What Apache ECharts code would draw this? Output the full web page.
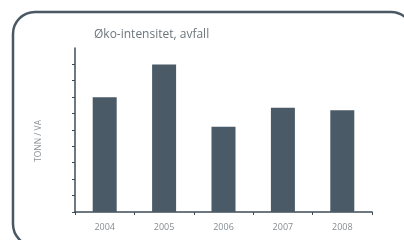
<!DOCTYPE html>
<html>
<head>
<meta charset="utf-8">
<script src="https://cdn.jsdelivr.net/npm/echarts@6/dist/echarts.min.js"></script>
<style>
html, body { margin: 0; padding: 0; background: #fff; }
#chart { width: 404px; height: 240px; }
</style>
</head>
<body>
<div id="chart"></div>
<script>
var years = ['2004', '2005', '2006', '2007', '2008'];
var avfall = [7.0, 9.0, 5.2, 6.35, 6.2];
var yMax = 10;
var tickMax = 9;

var axisColor = '#3f4c57';
var barColor = '#4a5a66';

var myChart = echarts.init(document.getElementById('chart'));
var option = {
    animation: false,
    title: {
        text: 'Øko-intensitet, avfall',
        left: 89,
        top: 24,
        textStyle: {
            fontFamily: 'Open Sans',
            fontSize: 12,
            fontWeight: 'normal',
            color: '#6d767c'
        }
    },
    graphic: [
        {
            type: 'rect',
            shape: { x: 13, y: 12, width: 400, height: 234, r: 22 },
            style: { fill: null, stroke: '#4a5863', lineWidth: 2.5 },
            silent: true
        },
        {
            type: 'text',
            x: 39,
            y: 141,
            rotation: Math.PI / 2,
            style: {
                text: 'TONN / VA',
                fontFamily: 'Open Sans',
                fontSize: 8.5,
                fill: '#8a9196',
                align: 'center',
                verticalAlign: 'middle'
            }
        }
    ],
    grid: [
        { left: 75, right: 32, top: 48, bottom: 28 },
        { left: 75, right: 32, top: 64, bottom: 28 }
    ],
    xAxis: [
        {
            type: 'category',
            gridIndex: 0,
            data: years,
            axisLine: { lineStyle: { color: axisColor, width: 1.5 } },
            axisTick: { show: true, length: 3, lineStyle: { color: axisColor } },
            axisLabel: {
                margin: 11,
                fontFamily: 'Open Sans',
                fontSize: 9,
                color: '#868d92'
            }
        },
        {
            type: 'category',
            gridIndex: 1,
            data: years,
            show: false
        }
    ],
    yAxis: [
        {
            type: 'value',
            gridIndex: 0,
            min: 0,
            max: yMax,
            interval: 1,
            axisLine: { show: true, lineStyle: { color: axisColor, width: 1.5 } },
            axisTick: { show: false },
            axisLabel: { show: false },
            splitLine: { show: false }
        },
        {
            type: 'value',
            gridIndex: 1,
            min: 0,
            max: tickMax,
            interval: 1,
            axisLine: { show: false },
            axisTick: { show: true, length: 3, lineStyle: { color: axisColor } },
            axisLabel: { show: false },
            splitLine: { show: false }
        }
    ],
    series: [
        {
            type: 'bar',
            xAxisIndex: 0,
            yAxisIndex: 0,
            data: avfall,
            barWidth: 24,
            itemStyle: { color: barColor }
        }
    ]
};
myChart.setOption(option);
</script>
</body>
</html>
